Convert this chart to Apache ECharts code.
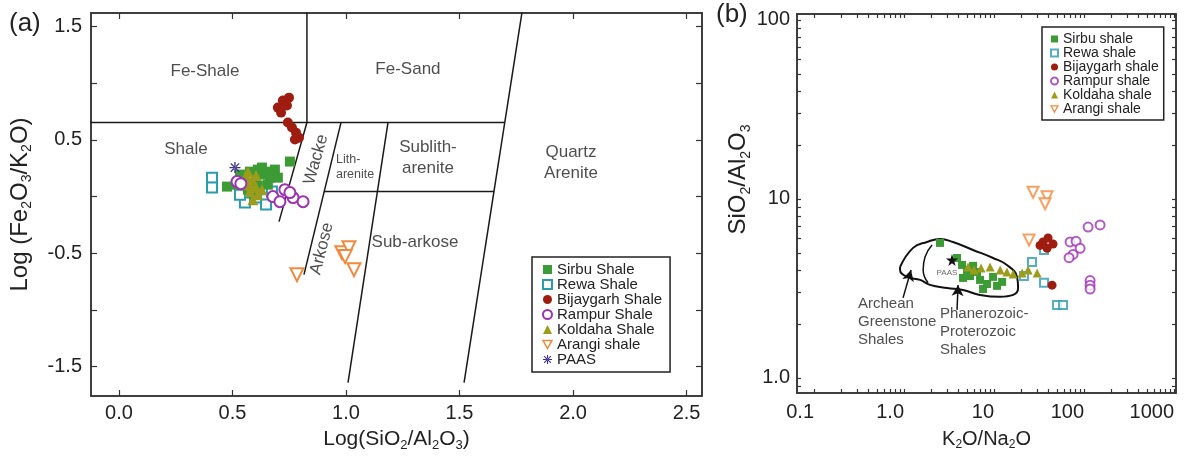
<!DOCTYPE html>
<html>
<head>
<meta charset="utf-8">
<script src="https://cdn.jsdelivr.net/npm/echarts@6/dist/echarts.min.js"></script>
<style>
html,body{margin:0;padding:0;background:#fff;}
#chart{width:1189px;height:459px;}
</style>
</head>
<body>
<div id="chart"></div>
<script>
// ---------- (a) log(SiO2/Al2O3) vs log(Fe2O3/K2O) ----------
const sirbuA = [[0.476,0.088],[0.515,0.105],[0.551,0.150],[0.577,0.220],[0.612,0.238],[0.630,0.194],[0.648,0.220],[0.665,0.167],[0.612,0.097],[0.568,0.061],[0.595,0.017],[0.630,0.256],[0.753,0.309],[0.656,0.105],[0.533,0.194],[0.700,0.167],[0.687,0.238]];
const rewaA = [[0.410,0.167],[0.410,0.079],[0.555,-0.053],[0.648,-0.071],[0.604,-0.009],[0.674,0.044],[0.533,0.017]];
const bijaygarhA = [[0.700,0.785],[0.722,0.847],[0.749,0.873],[0.740,0.803],[0.714,0.741],[0.744,0.653],[0.762,0.609],[0.780,0.564],[0.793,0.520],[0.775,0.503]];
const rampurA = [[0.520,0.132],[0.537,0.114],[0.678,0.000],[0.731,0.061],[0.767,-0.009],[0.811,-0.045],[0.753,0.035],[0.709,-0.045]];
const koldahaA = [[0.568,0.220],[0.586,0.150],[0.604,0.079],[0.577,0.044],[0.612,0.017],[0.555,0.106],[0.590,-0.027],[0.630,0.061],[0.564,0.167],[0.604,0.185],[0.581,0.097]];
const arangiA = [[0.784,-0.689],[0.982,-0.495],[1.013,-0.451],[0.996,-0.530],[1.035,-0.645]];
const paasA = [[0.511,0.256]];

// classification field boundaries (Herron 1988)
const herronLines = [
  [[0.828,1.70],[0.828,0.653]],
  [[0.828,0.653],[0.705,-0.221]],
  [[0.978,0.653],[0.815,-0.689]],
  [[-0.2,0.653],[1.699,0.653]],
  [[1.185,0.653],[1.009,-1.642]],
  [[0.903,0.044],[1.652,0.044]],
  [[1.781,1.70],[1.520,-1.642]]
];
const herronFields = [
  {text:'Fe-Shale', at:[0.379,1.103]},
  {text:'Fe-Sand', at:[1.273,1.120]},
  {text:'Shale', at:[0.295,0.414]},
  {text:'Wacke', at:[0.868,0.326], rotate:74},
  {text:'Lith-\narenite', at:[0.956,0.264], small:true},
  {text:'Sublith-\narenite', at:[1.361,0.344]},
  {text:'Quartz\nArenite', at:[1.991,0.300]},
  {text:'Arkose', at:[0.894,-0.459], rotate:76},
  {text:'Sub-arkose', at:[1.304,-0.406]}
];
const xTicksA = [0,0.5,1,1.5,2,2.5];
const xLabelsA = [0,0.5,1,1.5,2,2.5];
const yTicksA = [-1.5,-1,-0.5,0,0.5,1,1.5];
const yLabelsA = [-1.5,-0.5,0.5,1.5];
const namesA = ['Sirbu Shale','Rewa Shale','Bijaygarh Shale','Rampur Shale','Koldaha Shale','Arangi shale','PAAS'];

// ---------- (b) K2O/Na2O vs SiO2/Al2O3 ----------
const sirbuB = [[2.51,5.68],[3.88,4.68],[4.41,4.28],[5.01,4.01],[5.41,3.71],[6.47,3.91],[6.99,3.53],[8.36,3.35],[10.8,3.27],[12.3,3.44],[9.75,3.67],[7.55,3.14],[4.52,3.62],[5.85,4.23]];
const rewaB = [[26.4,4.45],[35.9,5.19],[21.5,3.71],[35.9,3.40],[50.1,2.56],[58.4,2.56]];
const bijaygarhB = [[35.0,5.75],[39.8,6.05],[45.2,5.6],[32.4,5.5],[38.8,5.3],[44.1,3.3]];
const rampurB = [[110.8,6.97],[150.6,7.16],[69.9,5.75],[81.5,5.8],[90.3,5.3],[75.5,4.9],[68.1,4.7],[116.6,3.5],[116.6,3.3],[116.6,3.14]];
const koldahaB = [[5.14,4.17],[5.99,4.01],[9.03,4.17],[11.7,4.01],[13.9,3.91],[16.3,3.81],[20.5,3.86],[23.9,4.01],[30.1,3.86],[7.17,4.12]];
const arangiB = [[27.1,10.9],[38.8,10.3],[36.9,9.4],[24.5,5.9]];
const paasB = [[3.41,4.56]];

// shale fields (Archean greenstone / Phanerozoic-Proterozoic) outline and divider
const shaleField = [[0.903,4.17],[1.26,5.33],[1.80,5.75],[2.51,5.98],[3.50,5.75],[5.84,5.19],[9.75,4.68],[13.9,4.28],[18.0,3.67],[18.5,3.18],[16.3,2.91],[11.7,2.84],[6.99,2.91],[4.52,3.10],[3.01,3.18],[1.94,3.31],[1.51,3.53],[1.08,3.67],[0.903,4.01],[0.903,4.17]];
const fieldDivider = [[2.05,5.53],[1.71,4.74],[1.63,4.01],[1.85,3.40]];
const fieldArrows = [
  [[0.975,2.80],[1.196,4.01]],
  [[3.88,2.40],[3.98,3.31]]
];
const fieldNotes = [
  {text:'Archean\nGreenstone\nShales', at:[0.308,2.91]},
  {text:'Phanerozoic-\nProterozoic\nShales', at:[2.51,2.56]}
];
const xLabelValsB = [0.1,1,10,100,1000];
const xLabelTextB = ['0.1','1.0','10','100','1000'];
const yLabelValsB = [1,10,100];
const yLabelTextB = ['1.0','10','100'];
const namesB = ['Sirbu shale','Rewa shale','Bijaygarh shale','Rampur shale','Koldaha shale','Arangi shale'];

// log-axis tick positions: 1..9 within each decade
function decadeTicks(fromExp, toExp, extra) {
  const out = [];
  for (let e = fromExp; e < toExp; e++) {
    for (let k = 1; k <= 9; k++) out.push(+(k * Math.pow(10, e)).toPrecision(6));
  }
  out.push(+Math.pow(10, toExp).toPrecision(6));
  return extra ? extra.concat(out) : out;
}
const xTicksB = decadeTicks(-1, 3);
const yTicksB = decadeTicks(0, 2, [0.9]);

// ---------- styles ----------
const FONT = 'Liberation Sans, Arial, Helvetica, sans-serif';
const AX = '#333';
const TXT = '#222';
const C = {
  sirbu: '#3d9b35', rewa: '#2a9cae', bijay: '#9e1d10', rampur: '#9c33b3',
  koldaha: '#9c9c1c', arangi: '#f28a3e', paasA: '#3d2f8f', paasB: '#111'
};
const asteriskPath = 'path://M0,4.4h10v1.2h-10z M4.4,0h1.2v10h-1.2z M0.8,1.6L1.6,0.8L9.2,8.4L8.4,9.2z M9.2,1.6L8.4,0.8L0.8,8.4L1.6,9.2z';
const starPath = 'path://M50,0L61,35L98,35L68,57L79,91L50,70L21,91L32,57L2,35L39,35Z';
const downTriPath = 'path://M0,0L10,0L5,9Z';

function rich(size) {
  return {
    n: {fontSize: size, lineHeight: size + 4, fontFamily: FONT, color: TXT},
    s: {fontSize: Math.round(size * 0.6), lineHeight: Math.round(size * 0.5), verticalAlign: 'bottom', fontFamily: FONT, color: TXT}
  };
}

function frameAxis(grid, pos, type, min, max, ticks, len) {
  return {
    gridIndex: grid, type: type, position: pos, min: min, max: max,
    axisLine: {show: true, onZero: false, lineStyle: {color: AX, width: 1.5}},
    axisTick: {show: true, inside: true, length: len, customValues: ticks, lineStyle: {color: AX, width: 1.2}},
    axisLabel: {show: false},
    splitLine: {show: false}
  };
}

const xAxes = [];
const yAxes = [];
// panel (a)
xAxes.push(Object.assign(frameAxis(0, 'bottom', 'value', -0.123, 2.568, xTicksA, 6), {
  axisLabel: {show: true, customValues: xLabelsA, formatter: v => Number(v).toFixed(1), fontSize: 20, color: TXT, fontFamily: FONT, margin: 7},
  name: '{n|Log(SiO}{s|2}{n|/Al}{s|2}{n|O}{s|3}{n|)}', nameLocation: 'middle', nameGap: 31,
  nameTextStyle: {rich: rich(21)}
}));
xAxes.push(frameAxis(0, 'top', 'value', -0.123, 2.568, xTicksA, 6));
yAxes.push(Object.assign(frameAxis(0, 'left', 'value', -1.76, 1.62, yTicksA, 6), {
  axisLabel: {show: true, customValues: yLabelsA, formatter: v => Number(v).toFixed(1), fontSize: 20, color: TXT, fontFamily: FONT, margin: 9},
  name: '{n|Log (Fe}{s|2}{n|O}{s|3}{n|/K}{s|2}{n|O)}', nameLocation: 'middle', nameGap: 57,
  nameTextStyle: {rich: rich(24)}
}));
yAxes.push(frameAxis(0, 'right', 'value', -1.76, 1.62, yTicksA, 6));
// panel (b)
xAxes.push(Object.assign(frameAxis(1, 'bottom', 'log', 0.0647, 1050, xTicksB, 4), {
  axisLabel: {show: true, customValues: xLabelValsB, align: 'right',
    formatter: v => xLabelTextB[xLabelValsB.findIndex(t => Math.abs(t - v) / t < 1e-6)],
    fontSize: 20, color: TXT, fontFamily: FONT, margin: 9},
  name: '{n|K}{s|2}{n|O/Na}{s|2}{n|O}', nameLocation: 'middle', nameGap: 34,
  nameTextStyle: {rich: rich(20)}
}));
xAxes.push(frameAxis(1, 'top', 'log', 0.0647, 1050, xTicksB, 4));
yAxes.push(Object.assign(frameAxis(1, 'left', 'log', 0.824, 108, yTicksB, 4), {
  axisLabel: {show: true, customValues: yLabelValsB,
    formatter: v => yLabelTextB[yLabelValsB.findIndex(t => Math.abs(t - v) / t < 1e-6)],
    fontSize: 20, color: TXT, fontFamily: FONT, margin: 7},
  name: '{n|SiO}{s|2}{n|/Al}{s|2}{n|O}{s|3}', nameLocation: 'middle', nameGap: 44,
  nameTextStyle: {rich: rich(24), padding: [0, 0, 0, 48]}
}));
yAxes.push(frameAxis(1, 'right', 'log', 0.824, 108, yTicksB, 4));

function pts(name, data, panel, sym, size, color, extra) {
  const empty = sym.indexOf('empty') === 0;
  return Object.assign({
    name: name, type: 'scatter', data: data,
    xAxisIndex: panel === 'a' ? 0 : 2, yAxisIndex: panel === 'a' ? 0 : 2,
    symbol: sym, symbolSize: size,
    itemStyle: empty ? {color: color, borderColor: color, borderWidth: 2, opacity: 1} : {color: color, opacity: 1},
    emphasis: {disabled: true}, z: 5
  }, extra || {});
}

const series = [];
// panel (a) boundaries
herronLines.forEach(seg => series.push({
  type: 'line', xAxisIndex: 0, yAxisIndex: 0, data: seg, symbol: 'none', silent: true,
  lineStyle: {color: '#1a1a1a', width: 1.5}, clip: true, z: 2
}));
// panel (a) field names
series.push({
  type: 'scatter', xAxisIndex: 0, yAxisIndex: 0, symbolSize: 0, silent: true, z: 3,
  itemStyle: {color: 'transparent'},
  data: herronFields.map(f => ({
    value: f.at,
    label: f.small
      ? {show: true, formatter: f.text, position: 'right', distance: 0, align: 'left', verticalAlign: 'middle', fontSize: 12.5, lineHeight: 15, color: TXT, fontFamily: FONT}
      : {show: true, formatter: f.text, position: 'inside', align: 'center', verticalAlign: 'middle', rotate: f.rotate || 0, fontSize: 17, lineHeight: 21, color: TXT, fontFamily: FONT}
  }))
});
series.push(pts('Rewa Shale', rewaA, 'a', 'emptyRect', 10, C.rewa));
series.push(pts('Sirbu Shale', sirbuA, 'a', 'rect', 10, C.sirbu));
series.push(pts('Koldaha Shale', koldahaA, 'a', 'triangle', 11, C.koldaha, {z: 6}));
series.push(pts('Rampur Shale', rampurA, 'a', 'emptyCircle', 11, C.rampur, {z: 7}));
series.push(pts('Bijaygarh Shale', bijaygarhA, 'a', 'circle', 10, C.bijay, {z: 7}));
series.push(pts('Arangi shale', arangiA, 'a', 'emptyTriangle', 13, C.arangi, {symbolRotate: 180, z: 7}));
series.push(pts('PAAS', paasA, 'a', asteriskPath, 11, C.paasA, {z: 8}));

// panel (b) fields
series.push({
  type: 'line', xAxisIndex: 2, yAxisIndex: 2, data: shaleField, symbol: 'none', smooth: 0.45, silent: true,
  lineStyle: {color: '#111', width: 2}, z: 2
});
series.push({
  type: 'line', xAxisIndex: 2, yAxisIndex: 2, data: fieldDivider, symbol: 'none', smooth: 0.5, silent: true,
  lineStyle: {color: '#111', width: 1.5}, z: 2
});
fieldArrows.forEach(seg => series.push({
  type: 'line', xAxisIndex: 2, yAxisIndex: 2, data: [], silent: true,
  markLine: {
    silent: true, symbol: ['none', 'arrow'], symbolSize: [9, 11], animation: false,
    lineStyle: {color: '#111', width: 1.5, type: 'solid'}, label: {show: false},
    data: [[{coord: seg[0]}, {coord: seg[1]}]]
  }
}));
series.push({
  type: 'scatter', xAxisIndex: 2, yAxisIndex: 2, symbolSize: 0, silent: true, z: 3,
  itemStyle: {color: 'transparent'},
  data: fieldNotes.map(f => ({
    value: f.at,
    label: {show: true, formatter: f.text, position: 'right', distance: 0, align: 'left', verticalAlign: 'top', fontSize: 15, lineHeight: 18, color: TXT, fontFamily: FONT}
  })).concat([{
    value: [3.0, 3.86],
    label: {show: true, formatter: 'PAAS', position: 'inside', align: 'center', verticalAlign: 'middle', fontSize: 8, color: '#444', fontFamily: FONT}
  }])
});
series.push(pts('Sirbu shale', sirbuB, 'b', 'rect', 8, C.sirbu));
series.push(pts('Koldaha shale', koldahaB, 'b', 'triangle', 9, C.koldaha, {z: 6}));
series.push(pts('Rewa shale', rewaB, 'b', 'emptyRect', 8, C.rewa, {itemStyle: {color: C.rewa, borderColor: C.rewa, borderWidth: 1.6}}));
series.push(pts('Bijaygarh shale', bijaygarhB, 'b', 'circle', 9, C.bijay, {z: 7}));
series.push(pts('Rampur shale', rampurB, 'b', 'emptyCircle', 9, C.rampur, {itemStyle: {color: C.rampur, borderColor: C.rampur, borderWidth: 1.6}}));
series.push(pts('Arangi shale', arangiB, 'b', 'emptyTriangle', 11, C.arangi, {symbolRotate: 180, itemStyle: {color: C.arangi, borderColor: C.arangi, borderWidth: 1.6}}));
series.push(pts('PAAS star', paasB, 'b', starPath, 12, C.paasB, {z: 8}));

// legend entries: the Arangi icon points down like its markers
function legendItems(names, bw) {
  return names.map(n => n === 'Arangi shale'
    ? {name: n, icon: downTriPath, itemStyle: {color: '#fff', borderColor: C.arangi, borderWidth: bw}}
    : n);
}

const legendBase = {
  orient: 'vertical', borderColor: '#222', borderWidth: 1.5, backgroundColor: '#fff',
  itemGap: 0, selectedMode: false, align: 'left'
};

const option = {
  animation: false,
  backgroundColor: '#fff',
  textStyle: {fontFamily: FONT},
  grid: [
    {left: 91, top: 13, width: 611, height: 383, show: true, borderColor: AX, borderWidth: 1.5, backgroundColor: 'transparent', containLabel: false},
    {left: 797, top: 14, width: 379, height: 379, show: true, borderColor: AX, borderWidth: 1.5, backgroundColor: 'transparent', containLabel: false}
  ],
  xAxis: xAxes,
  yAxis: yAxes,
  legend: [
    Object.assign({}, legendBase, {
      data: legendItems(namesA, 1.5), left: 532, top: 257, padding: [5, 8, 5, 10], itemWidth: 9, itemHeight: 9,
      textStyle: {fontSize: 15, lineHeight: 14.7, color: TXT, fontFamily: FONT}
    }),
    Object.assign({}, legendBase, {
      data: legendItems(namesB, 1.2), left: 1042, top: 27, padding: [5, 5, 4, 8], itemWidth: 7, itemHeight: 7,
      textStyle: {fontSize: 14, lineHeight: 12.7, color: TXT, fontFamily: FONT}
    })
  ],
  graphic: [
    {type: 'text', left: 9, top: 11, style: {text: '(a)', fontSize: 26, fill: TXT, fontFamily: FONT}},
    {type: 'text', left: 716, top: 2, style: {text: '(b)', fontSize: 26, fill: TXT, fontFamily: FONT}}
  ],
  series: series
};

const chart = echarts.init(document.getElementById('chart'), null, {renderer: 'canvas'});
chart.setOption(option);
</script>
</body>
</html>
